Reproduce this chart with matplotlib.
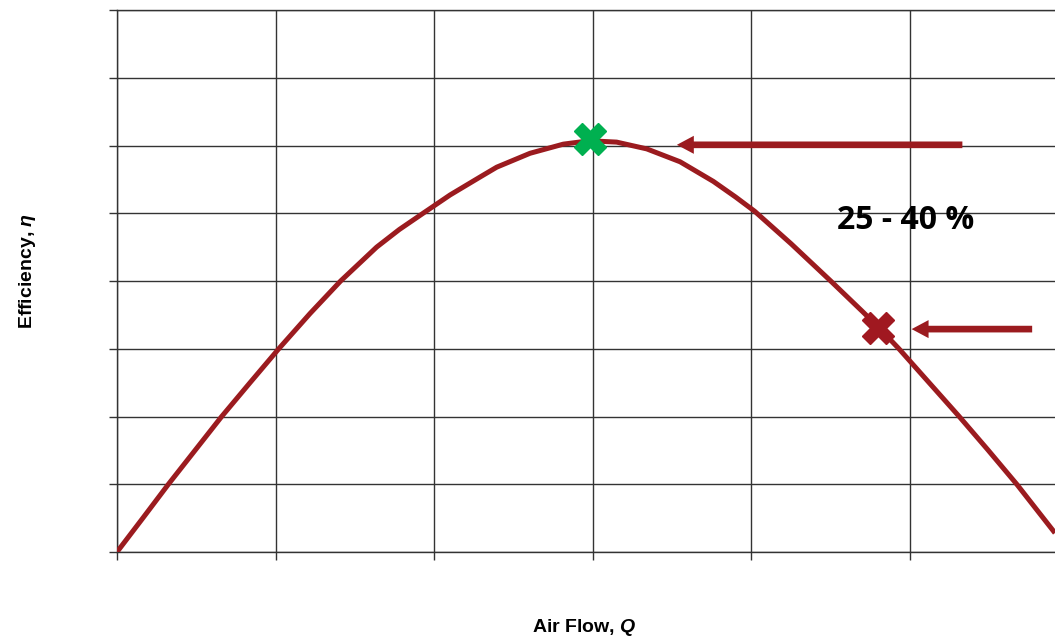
import numpy as np
import matplotlib
matplotlib.use("Agg")
import matplotlib.pyplot as plt

plt.rcParams['mathtext.fontset'] = 'custom'
plt.rcParams['mathtext.it'] = 'Liberation Sans:bold:italic'
plt.rcParams['mathtext.rm'] = 'Liberation Sans:bold'

# curve points (grid units)
air_flow = [0.0, 0.166, 0.324, 0.492, 0.66, 0.839, 1.02, 1.217, 1.41, 1.637,
            1.78, 1.93, 2.10, 2.30, 2.394, 2.604, 2.814, 2.98, 3.15, 3.34,
            3.55, 3.76, 3.90, 4.02, 4.25, 4.50, 4.70, 4.80, 4.93, 5.12,
            5.31, 5.49, 5.673, 5.914]
efficiency = [0.0, 0.51, 1.0, 1.5, 2.0, 2.5, 3.0, 3.52, 4.0, 4.5,
              4.76, 5.0, 5.27, 5.55, 5.68, 5.885, 6.02, 6.07, 6.05, 5.95,
              5.76, 5.47, 5.24, 5.03, 4.55, 4.0, 3.55, 3.32, 3.0, 2.5,
              2.0, 1.51, 1.0, 0.28]

best_point = (2.98, 6.10)
oper_point = (4.80, 3.30)
arrow_top = ((5.33, 6.01), (3.53, 6.01))
arrow_low = ((5.77, 3.29), (5.01, 3.29))
label_text = "25 - 40 %"
label_pos = (4.975, 4.89)

red = '#9B1B1F'
green = '#00B050'

fig = plt.figure(figsize=(10.55, 6.42), dpi=100)
ax = fig.add_axes([117/1055, 90/642, (1055-117)/1055, 542/642])

ax.plot(air_flow, efficiency, color=red, lw=3.6, zorder=3,
        solid_capstyle='butt', solid_joinstyle='round')
ax.plot(*best_point, marker='X', markersize=23, color=green, mec=green, zorder=5)
ax.plot(*oper_point, marker='X', markersize=23, color='#A01820', mec='#A01820', zorder=5)

for tail, tip in [arrow_top, arrow_low]:
    ax.annotate("", xy=tip, xytext=tail,
                arrowprops=dict(arrowstyle="simple,head_length=1.22,head_width=1.3,tail_width=0.48",
                                mutation_scale=10, color=red, lw=0,
                                shrinkA=0, shrinkB=0), zorder=4)

ax.text(*label_pos, label_text, ha='center', va='center', fontsize=23,
        fontweight='bold', family='Open Sans', zorder=6)

ax.set_xlim(0, 5.914)
ax.set_ylim(0, 8)
ax.set_xticks(np.arange(0, 6))
ax.set_yticks(np.arange(0, 9))
ax.set_xticklabels([])
ax.set_yticklabels([])
ax.tick_params(direction='out', length=6, width=1, color='#333333')
ax.grid(True, color='#333333', lw=1)
ax.spines['right'].set_visible(False)
for s in ['left', 'bottom', 'top']:
    ax.spines[s].set_color('#333333')
    ax.spines[s].set_linewidth(1)

fig.text(584/1055, 1 - 627/642, "Air Flow, $Q$", fontsize=14, fontweight='bold',
         family='Liberation Sans', ha='center', va='center')
fig.text(27/1055, 1 - 271/642, "Efficiency, $\\eta$", fontsize=14, fontweight='bold',
         family='Liberation Sans', ha='center', va='center', rotation=90)

fig.savefig("out.png", dpi=100)
